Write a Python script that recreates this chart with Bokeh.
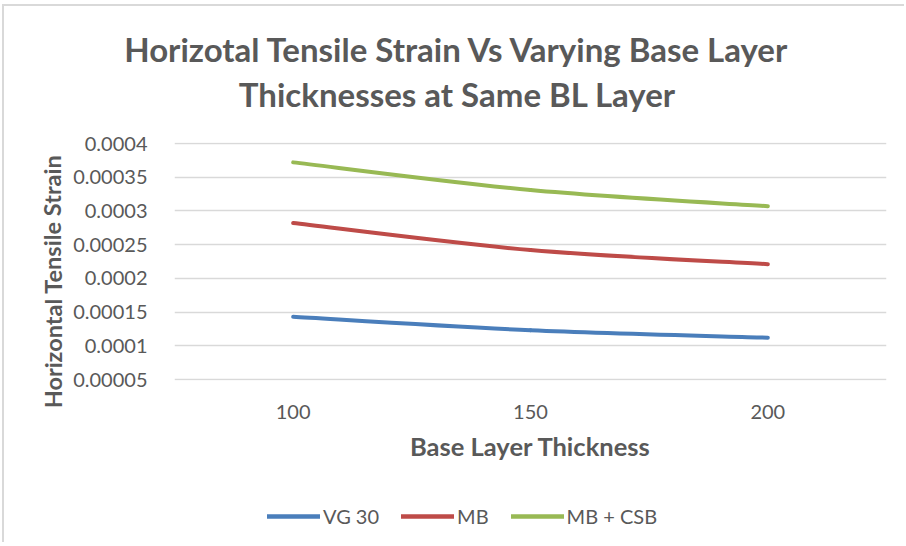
from bokeh.plotting import figure
from bokeh.layouts import column, row
from bokeh.models import (FixedTicker, Legend, LegendItem, ColumnDataSource, Range1d)
from bokeh.embed import file_html
from bokeh.resources import INLINE

# ---- data ----
thickness = [100, 150, 200]
vg30 = [0.000143, 0.000123, 0.000112]
mb = [0.000282, 0.000242, 0.000221]
mb_csb = [0.000372, 0.000331, 0.000307]
series_names = ["VG 30", "MB", "MB + CSB"]
y_ticks = [0.00005, 0.0001, 0.00015, 0.0002, 0.00025, 0.0003, 0.00035, 0.0004]
y_tick_labels = ["0.00005", "0.0001", "0.00015", "0.0002", "0.00025", "0.0003", "0.00035", "0.0004"]

title_lines = ["Horizotal Tensile Strain Vs Varying Base Layer", "Thicknesses at Same BL Layer"]
x_title = "Base Layer Thickness"
y_title = "Horizontal Tensile Strain"

# ---- layout (page pixels) ----
OX, OY = 4, 6                  # content origin inside the bordered box
CW, CH = 902, 538              # content size
YL_W = 66                      # y-title strip width
TOP_H = 112                    # title strip height
MID_H = 352                    # plot strip height
LEG_H = CH - TOP_H - MID_H     # legend strip height
FL, FR, FT, FB = 168, 886, 142, 380   # plot frame
X0, X1 = 75, 225
Y0, Y1 = 0.00005, 0.0004
DY = (Y1 - Y0) / (FB - FT - 2)   # a pixel of headroom so edge gridlines show

FONT = "Lato"
GREY = "#595959"
COLORS = ["#4A7EBB", "#BE4B48", "#98B954"]

col_left = OX + YL_W
col_w = CW - YL_W


def no_frame_align(f):
    if "frame_align" in f.properties():
        f.frame_align = False
    return f


def blank(width, height, x_range=None):
    f = figure(width=width, height=height, output_backend="svg", toolbar_location=None,
               x_range=x_range or Range1d(0, width), y_range=Range1d(height, 0),
               x_axis_location=None, y_axis_location=None,
               min_border=0, min_border_left=0, min_border_right=0,
               min_border_top=0, min_border_bottom=0)
    f.grid.visible = False
    f.outline_line_color = None
    f.border_fill_color = "white"
    return no_frame_align(f)


# ---- y-title strip (full height) ----
py = blank(YL_W, CH)
py.text(x=[52 - OX], y=[281 - OY], text=[y_title], angle=1.5708,
        text_align="center", text_baseline="middle", text_font={"value": FONT},
        text_font_style="bold", text_font_size="23.5px", text_color=GREY)

# ---- title strip ----
pt = blank(col_w, TOP_H)
pt.text(x=[457 - col_left] * 2, y=[48 - OY, 93 - OY], text=title_lines,
        text_align="center", text_baseline="middle", text_font={"value": FONT},
        text_font_style="bold", text_font_size="33px", text_color=GREY)

# ---- main plot ----
mid_top = OY + TOP_H
p = figure(width=col_w, height=MID_H, output_backend="svg", toolbar_location=None,
           x_range=(X0, X1), y_range=(Y0 - DY, Y1 + DY),
           min_border_left=FL - col_left, min_border_right=OX + CW - FR,
           min_border_top=FT - mid_top, min_border_bottom=mid_top + MID_H - FB)
no_frame_align(p)
p.outline_line_color = None
p.border_fill_color = "white"

p.xaxis.ticker = FixedTicker(ticks=thickness)
p.yaxis.ticker = FixedTicker(ticks=y_ticks)
p.yaxis.major_label_overrides = {t: s for t, s in zip(y_ticks, y_tick_labels)}
for ax in (p.xaxis[0], p.yaxis[0]):
    ax.axis_line_color = None
    ax.major_tick_line_color = None
    ax.minor_tick_line_color = None
    ax.major_label_text_font = FONT
    ax.major_label_text_font_size = "20px"
    ax.major_label_text_color = GREY
p.yaxis.major_label_standoff = 21
p.xaxis.major_label_standoff = 18
p.xaxis.axis_label = x_title
p.xaxis.axis_label_text_font = FONT
p.xaxis.axis_label_text_font_style = "bold"
p.xaxis.axis_label_text_font_size = "25.5px"
p.xaxis.axis_label_text_color = GREY
p.xaxis.axis_label_standoff = 9
p.xgrid.grid_line_color = None
p.ygrid.grid_line_color = "#d9d9d9"
p.ygrid.grid_line_width = 1.5


# smooth curves (Catmull-Rom segments as cubic Beziers)
def bezier_segments(xs, ys):
    n = len(xs)
    seg = dict(x0=[], y0=[], x1=[], y1=[], cx0=[], cy0=[], cx1=[], cy1=[])
    for i in range(n - 1):
        xp, yp = (xs[i - 1], ys[i - 1]) if i > 0 else (xs[i], ys[i])
        xn, yn = (xs[i + 2], ys[i + 2]) if i + 2 < n else (xs[i + 1], ys[i + 1])
        seg["x0"].append(xs[i]); seg["y0"].append(ys[i])
        seg["x1"].append(xs[i + 1]); seg["y1"].append(ys[i + 1])
        seg["cx0"].append(xs[i] + (xs[i + 1] - xp) / 6)
        seg["cy0"].append(ys[i] + (ys[i + 1] - yp) / 6)
        seg["cx1"].append(xs[i + 1] - (xn - xs[i]) / 6)
        seg["cy1"].append(ys[i + 1] - (yn - ys[i]) / 6)
    return ColumnDataSource(seg)


for vals, col in zip([vg30, mb, mb_csb], COLORS):
    p.bezier(x0="x0", y0="y0", x1="x1", y1="y1", cx0="cx0", cy0="cy0",
             cx1="cx1", cy1="cy1", source=bezier_segments(thickness, vals),
             line_color=col, line_width=4, line_cap="round")

# ---- legend strip ----
# the series are re-drawn here outside the visible x range so the
# legend can use their line styles as swatches
leg_top = mid_top + MID_H
pl = blank(col_w, LEG_H, x_range=Range1d(-col_w, 0))
items = []
for name, vals, col in zip(series_names, [vg30, mb, mb_csb], COLORS):
    r = pl.line(x=thickness, y=vals, line_color=col, line_width=4.5, line_cap="round")
    items.append(LegendItem(label=name, renderers=[r]))
legend = Legend(items=items, orientation="horizontal",
                location=(267 - col_left, LEG_H - (516 + 12 - leg_top)),
                glyph_width=53, glyph_height=24, label_standoff=3, spacing=22,
                padding=0, margin=0, border_line_color=None,
                background_fill_alpha=0, label_text_font=FONT,
                label_text_font_size="20px", label_text_color=GREY,
                label_height=24)
pl.add_layout(legend, "center")

page = row(py, column(pt, p, pl))
page.styles = {"box-shadow": "-2px -2px 0 0 #d9d9d9",
               "margin-left": f"{OX}px", "margin-top": f"{OY}px"}

open("out.html", "w").write(file_html(page, INLINE))
